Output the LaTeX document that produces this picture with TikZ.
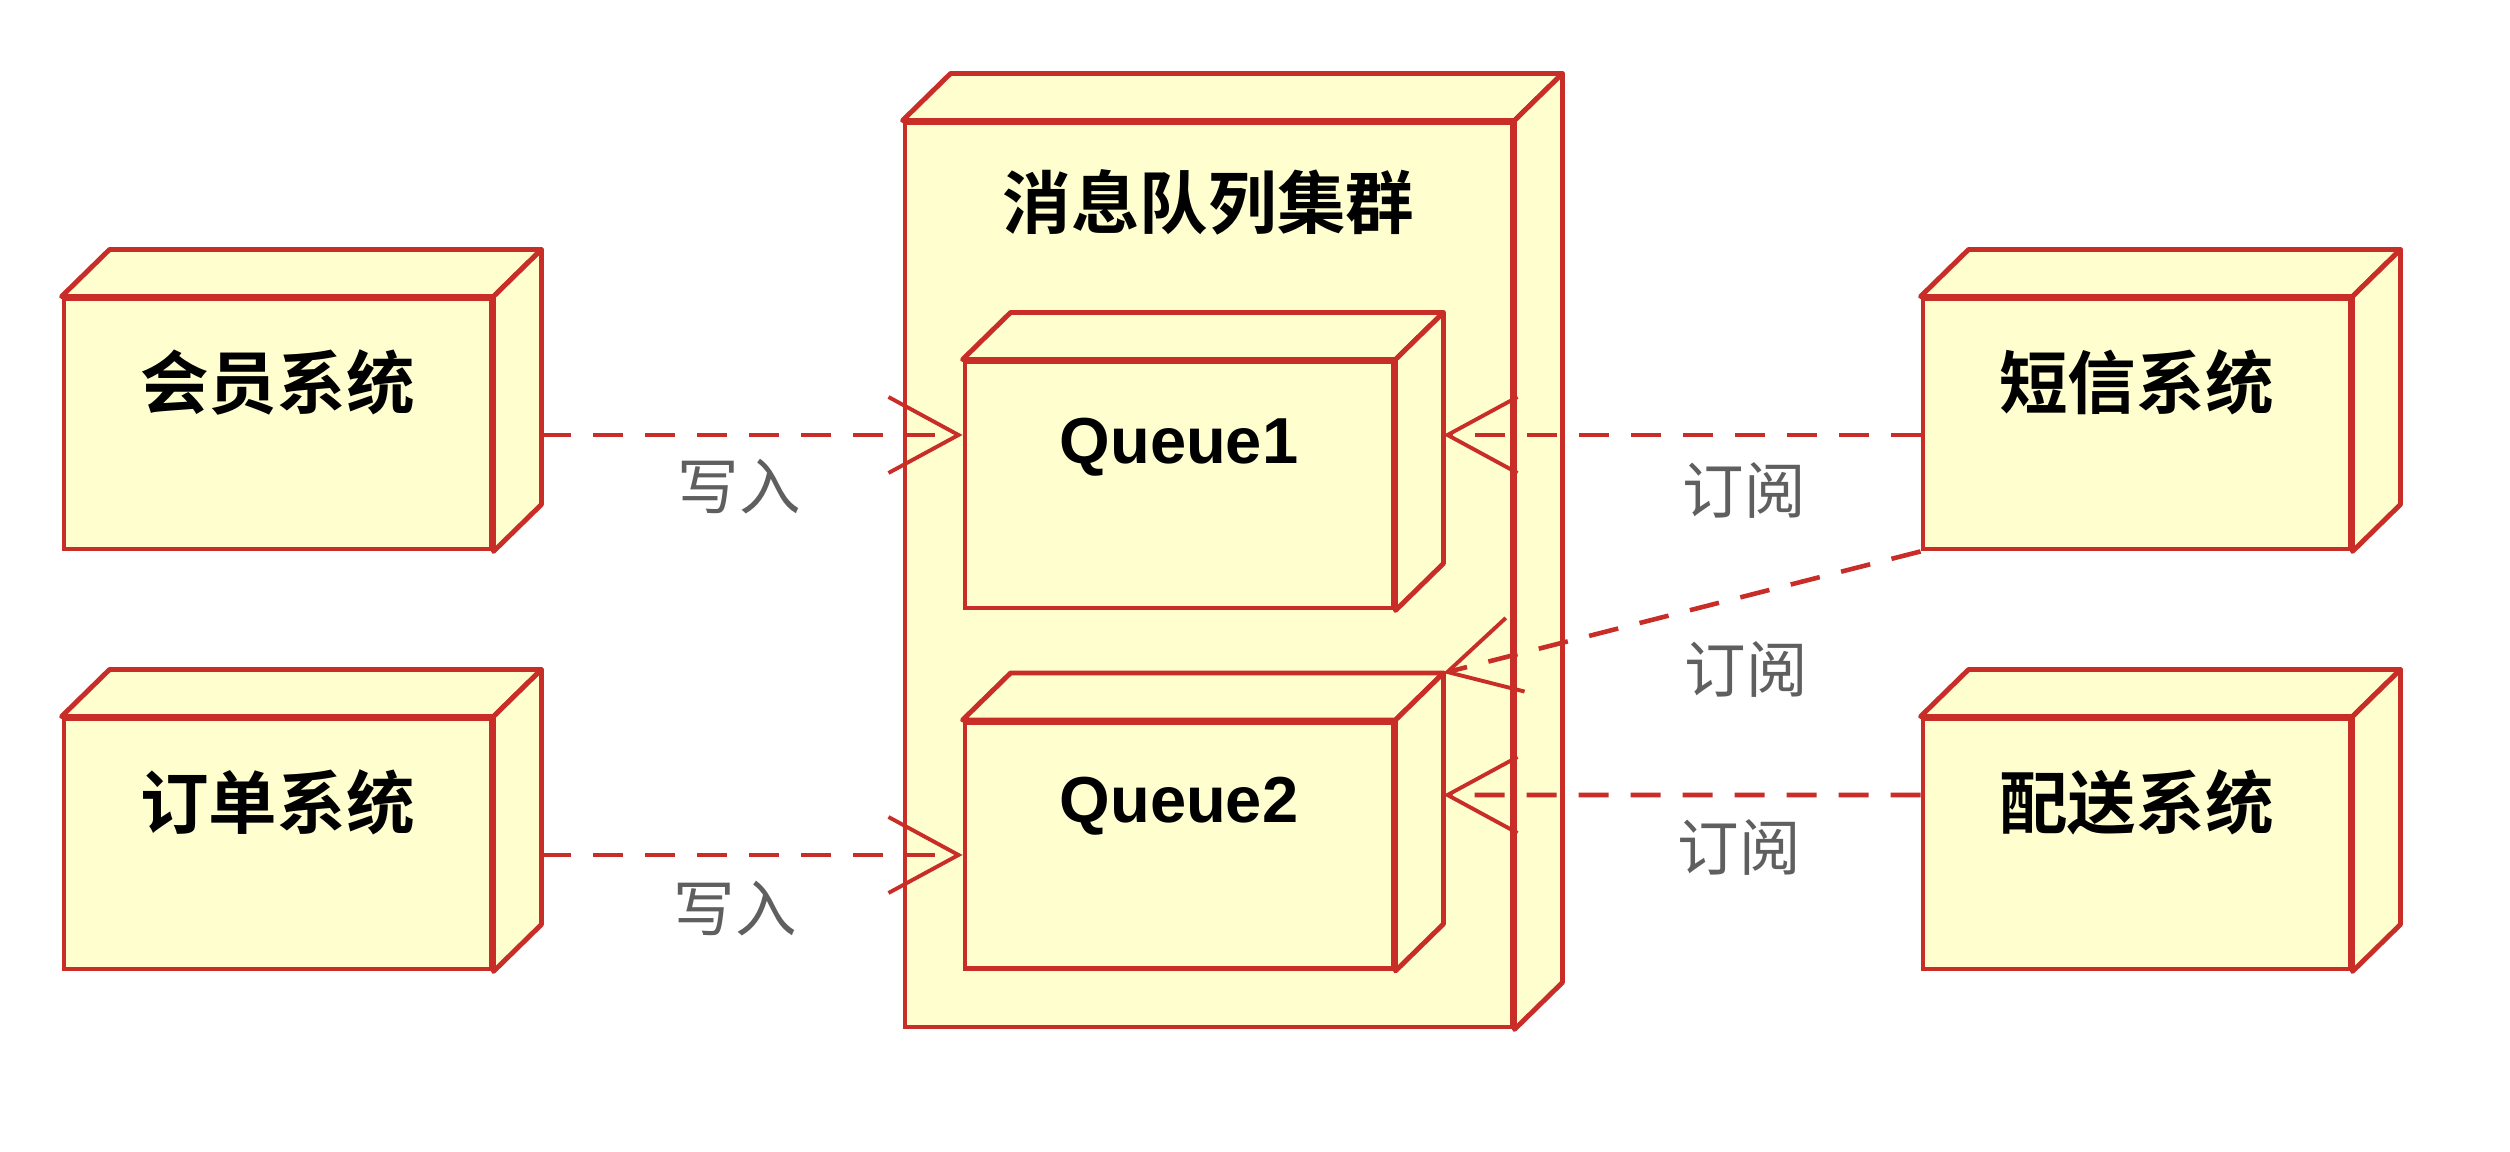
\documentclass[tikz,border=0pt]{standalone}
\usepackage{fontspec}
\setmainfont{Liberation Sans}
\newfontfamily\cjk[BoldFont={Noto Sans CJK SC Bold}]{Noto Sans CJK SC}
\usetikzlibrary{calc,arrows.meta}

\definecolor{nodeline}{RGB}{200,45,40}
\definecolor{nodefill}{RGB}{254,254,206}
\definecolor{labgray}{RGB}{95,95,95}

\begin{document}
\begin{tikzpicture}[
  front/.style={draw=nodeline, fill=nodefill, line width=1.4pt, inner sep=0pt},
  sysbox/.style={front, minimum width=4.27cm, minimum height=2.50cm},
  qbox/.style={front, minimum width=4.28cm, minimum height=2.46cm},
  face/.style={draw=nodeline, fill=nodefill, line width=1.4pt, line join=round},
  title/.style={font=\cjk\bfseries\fontsize{19.5}{19.5}\selectfont},
  qtitle/.style={font=\bfseries\fontsize{18.5}{18.5}\selectfont},
  lab/.style={font=\cjk\fontsize{17.5}{17.5}\selectfont, text=labgray},
  dep/.style={draw=nodeline, line width=1.3pt, dash pattern=on 0.3cm off 0.22cm,
    -{Straight Barb[length=0.7cm, width=0.76cm, line width=1.1pt]}}
]
\useasboundingbox[fill=white] (0,0) rectangle (25.10,11.52);

% Cluster and queues
\node[front, minimum width=6.07cm, minimum height=9.04cm] (mq) at (12.085,5.77) {};
\node[qbox] (q1) at (11.79,6.67) {};
\node[qbox] (q2) at (11.79,3.065) {};

% Systems
\node[sysbox] (hy) at (2.775,7.28) {};
\node[sysbox] (dd) at (2.775,3.08) {};
\node[sysbox] (dx) at (21.365,7.28) {};
\node[sysbox] (ps) at (21.365,3.08) {};

% Depth faces
\foreach \n in {mq,q1,q2,hy,dd,dx,ps}{
  \draw[face] (\n.north west) -- ++(0.48,0.47) -- ($(\n.north east)+(0.48,0.47)$) -- (\n.north east) -- cycle;
  \draw[face] (\n.north east) -- ++(0.48,0.47) -- ($(\n.south east)+(0.48,0.47)$) -- (\n.south east) -- cycle;
}

% Titles
\node[title] (mq-t) at ([yshift=-0.82cm]mq.north) {消息队列集群};
\node[qtitle] (q1-t) at ([yshift=-0.88cm]q1.north) {Queue1};
\node[qtitle] (q2-t) at ([yshift=-0.86cm]q2.north) {Queue2};
\node[title] (hy-t) at ([yshift=-0.86cm]hy.north) {会员系统};
\node[title] (dd-t) at ([yshift=-0.86cm]dd.north) {订单系统};
\node[title] (dx-t) at ([yshift=-0.86cm]dx.north) {短信系统};
\node[title] (ps-t) at ([yshift=-0.86cm]ps.north) {配送系统};

% Write
\draw[dep] ([shift={(0.48,-0.11)}]hy.east) -- ($(hy.east -| q1.west)+(0,-0.11)$) node[lab, pos=0.47, yshift=-0.52cm] {写入};
\draw[dep] ([shift={(0.48,-0.11)}]dd.east) -- ($(dd.east -| q2.west)+(0,-0.11)$) node[lab, pos=0.46, yshift=-0.54cm] {写入};

% Subscribe
\draw[dep] ([yshift=-0.11cm]dx.west) -- ($(dx.west -| q1.east)+(0.48,-0.11)$) node[lab, pos=0.37, yshift=-0.56cm] {订阅};
\draw[dep] (dx.south west) -- ($(q2.north east)+(0.48,0.47)$) node[lab, pos=0.365, yshift=-0.74cm] {订阅};
\draw[dep] ([yshift=0.49cm]ps.west) -- ($(ps.west -| q2.east)+(0.48,0.49)$) node[lab, pos=0.38, yshift=-0.53cm] {订阅};
\end{tikzpicture}
\end{document}
